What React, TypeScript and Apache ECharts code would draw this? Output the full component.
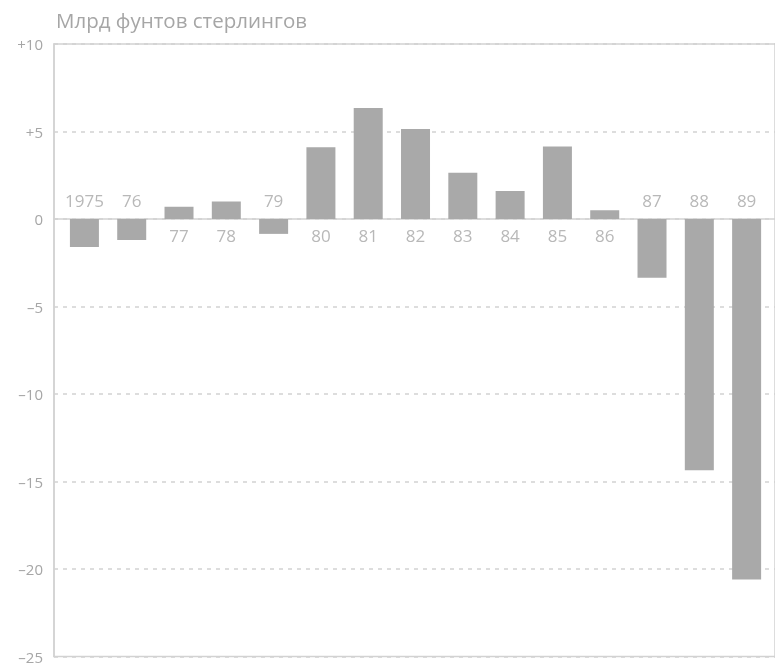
import React, { useEffect, useRef } from "react";
import * as echarts from "echarts";

const categories = ["1975", "76", "77", "78", "79", "80", "81", "82", "83", "84", "85", "86", "87", "88", "89"];
const values = [-1.6, -1.2, 0.7, 1.0, -0.85, 4.1, 6.35, 5.15, 2.65, 1.6, 4.15, 0.5, -3.35, -14.35, -20.6];
const yTickLabels: Record<string, string> = {
  "10": "+10",
  "5": "+5",
  "0": "0",
  "-5": "–5",
  "-10": "–10",
  "-15": "–15",
  "-20": "–20",
  "-25": "–25",
};
const titleText = "Млрд фунтов стерлингов";

const FONT = "'Open Sans', 'Noto Sans', sans-serif";
const TEXT = "#a6a6a6";
const LINE = "#d2d2d2";

export default function App() {
  const ref = useRef<HTMLDivElement>(null);
  useEffect(() => {
    if (!ref.current) return;
    const chart = echarts.init(ref.current, undefined, { renderer: "svg" });
    chart.setOption({
      animation: false,
      title: {
        text: titleText,
        left: 51,
        top: 4,
        textStyle: { color: TEXT, fontSize: 20.5, fontWeight: "normal", fontFamily: FONT },
      },
      grid: {
        left: 54,
        right: -1,
        top: 44,
        bottom: 9.5,
        show: true,
        borderColor: LINE,
        borderWidth: 1.5,
      },
      xAxis: {
        type: "value",
        min: -0.643,
        max: 14.6,
        axisLine: { show: true, onZero: true, lineStyle: { color: LINE, width: 1.5 } },
        axisTick: { show: false },
        axisLabel: { show: false },
        splitLine: { show: false },
      },
      yAxis: {
        type: "value",
        min: -25,
        max: 10,
        interval: 5,
        axisLine: { show: true, onZero: false, lineStyle: { color: LINE, width: 1.5 } },
        axisTick: { show: false },
        axisLabel: {
          color: TEXT,
          fontSize: 15,
          lineHeight: 14,
          fontFamily: FONT,
          margin: 11,
          formatter: (v: number) => yTickLabels[String(v)] ?? String(v),
        },
        splitLine: { show: true, lineStyle: { color: LINE, width: 1.5, type: [4, 5] } },
      },
      series: [
        {
          type: "bar",
          barWidth: 29,
          itemStyle: { color: "#a9a9a9" },
          data: values.map((v, i) => [i, v]),
          z: 3,
        },
        {
          type: "scatter",
          symbolSize: 0,
          silent: true,
          data: values.map((v, i) => ({
            value: [i, 0],
            label: { position: v < 0 ? "top" : "bottom", distance: v < 0 ? 10 : 8 },
          })),
          label: {
            show: true,
            color: TEXT,
            fontSize: 17,
            fontFamily: FONT,
            formatter: (p: any) => categories[p.dataIndex],
          },
          z: 4,
        },
      ],
    });
    return () => chart.dispose();
  }, []);
  return <div ref={ref} style={{ position: "fixed", left: 0, top: 0, width: 775, height: 666 }} />;
}
